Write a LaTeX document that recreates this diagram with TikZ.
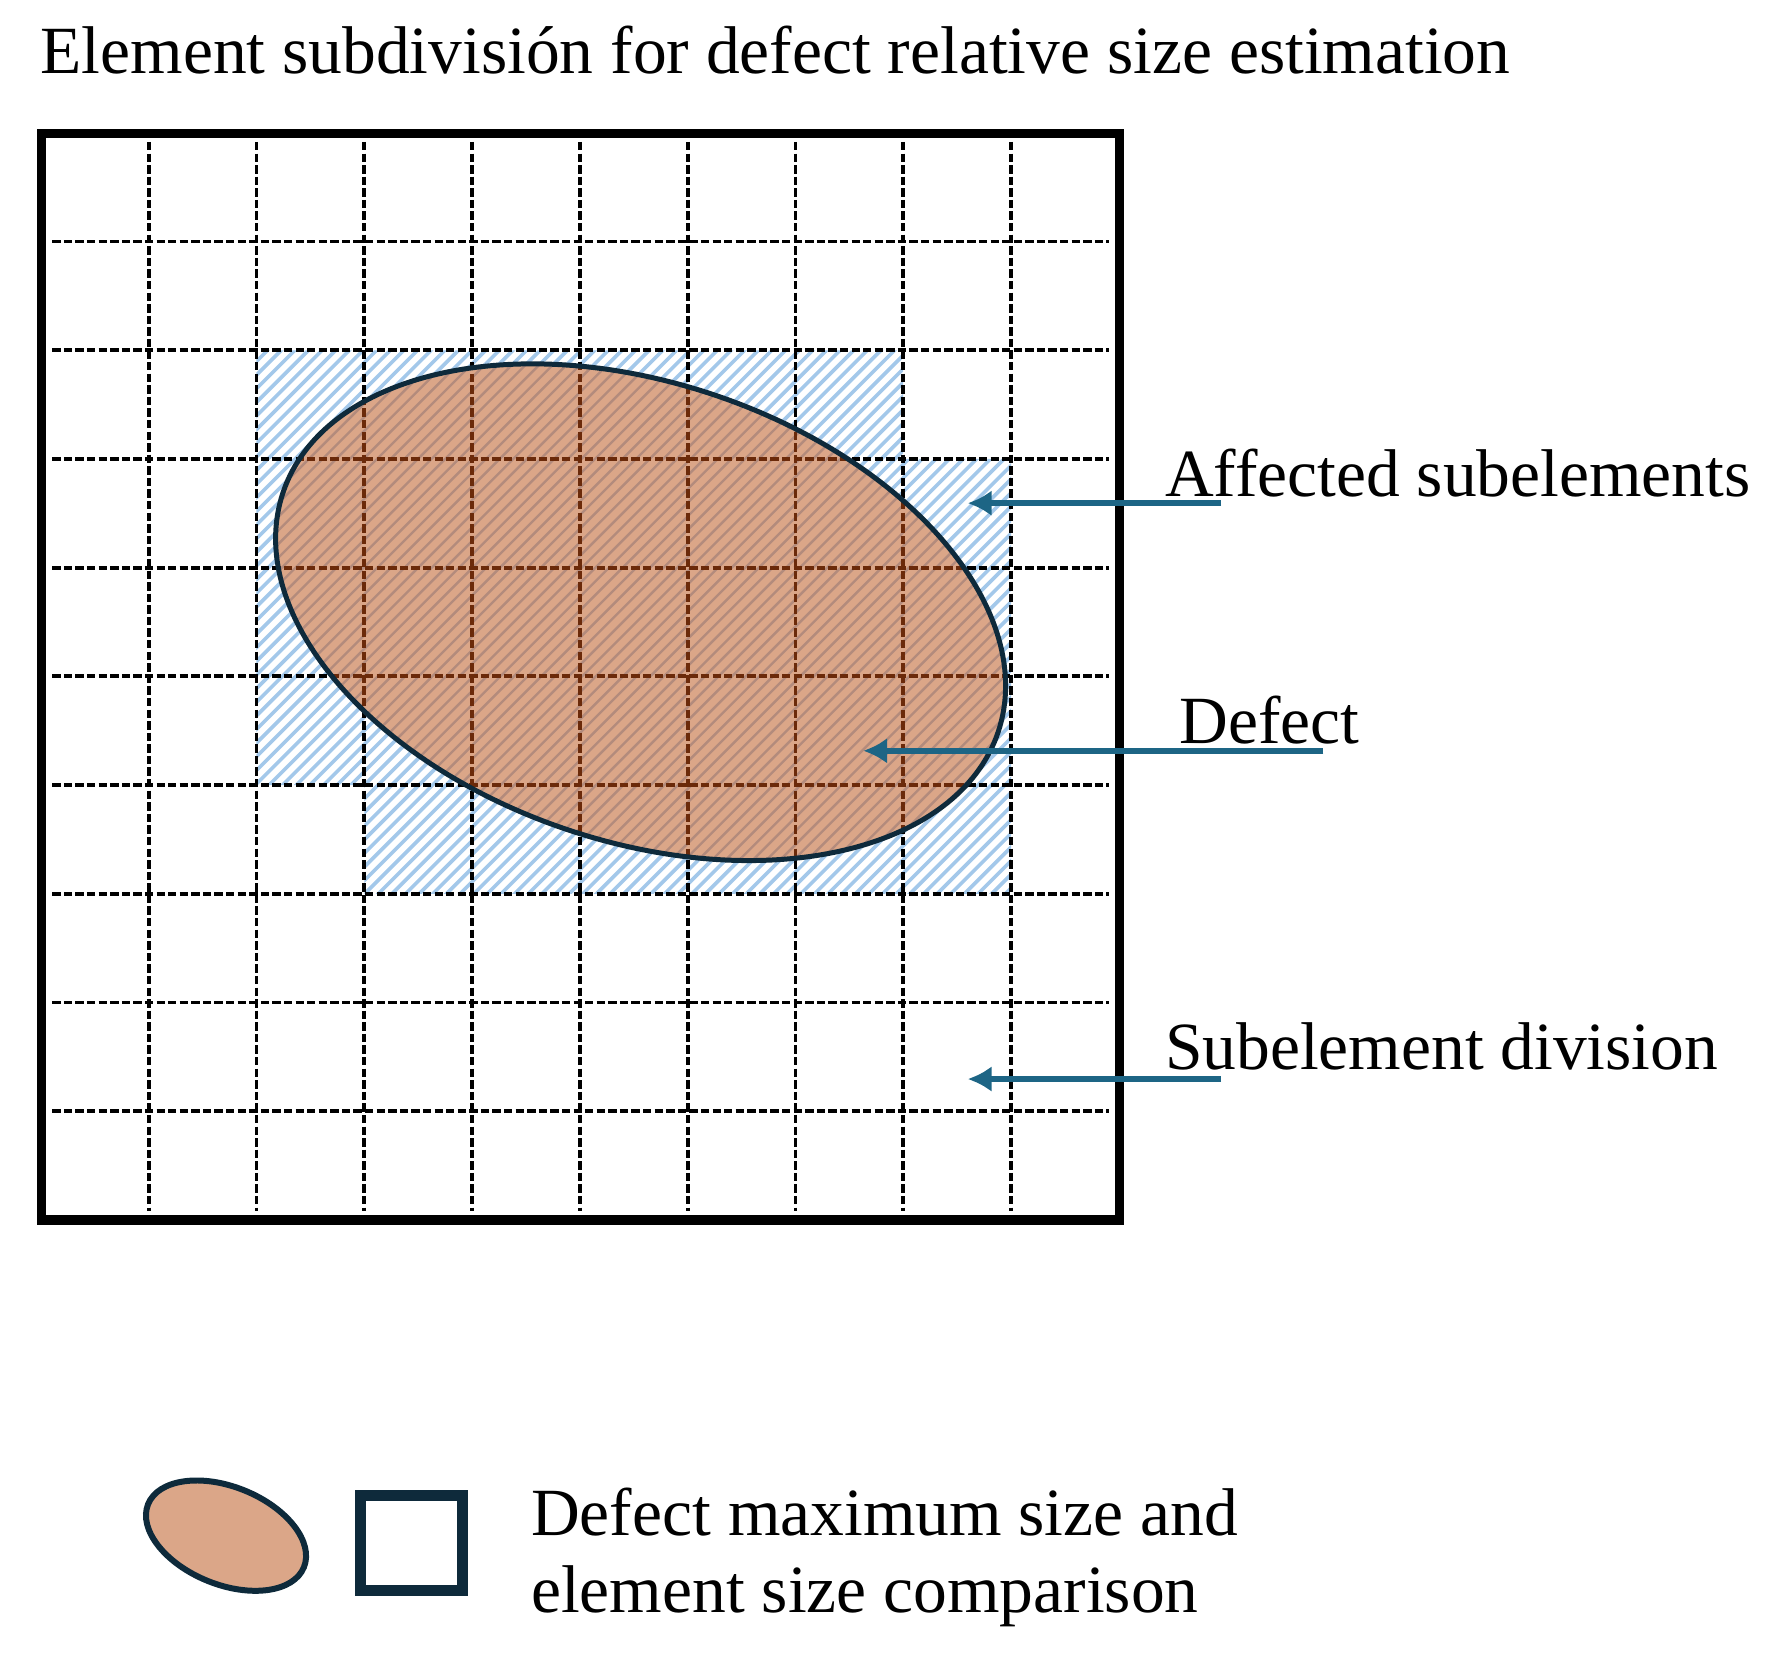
\documentclass[tikz,border=0pt]{standalone}
\usepackage{fontspec}
\setmainfont{Liberation Serif}
\usetikzlibrary{arrows.meta}
\definecolor{hatchblue}{HTML}{A3C8EA}
\definecolor{defectfill}{HTML}{DBA688}
\definecolor{defecthatch}{HTML}{B38B7C}
\definecolor{gridbrown}{HTML}{6B2A0A}
\definecolor{navy}{HTML}{0E2A3B}
\definecolor{arrowblue}{HTML}{1D6585}
\tikzset{
  gridline/.style={line width=0.95pt, dash pattern=on 2.1pt off 0.8pt},
  hatchline/.style={line width=0.9pt},
  innerhatch/.style={line width=0.6pt},
  pointer/.style={arrowblue, line width=1.6pt, -{Latex[length=6pt,width=6.5pt]}},
  lbl/.style={anchor=base west, inner sep=0pt, font=\fontsize{16.9pt}{20pt}\selectfont},
}
\begin{document}
\begin{tikzpicture}[x=0.01cm, y=-0.01cm]
\useasboundingbox (0,0) rectangle (1568,1455);
% title
\node[lbl] (title) at (35,65) {Element subdivisión for defect relative size estimation};
% blue hatching of affected cells
\begin{scope}
  \clip (225.8,308.4) -- (795.2,308.4) -- (795.2,404.1) -- (890.1,404.1) -- (890.1,786.9)
        -- (320.7,786.9) -- (320.7,691.2) -- (225.8,691.2) -- cycle;
  \foreach \c in {520,532,...,1700} {
    \draw[hatchblue, hatchline] (\c-820,820) -- (\c-290,290);
  }
\end{scope}
% grid
\foreach \i in {1,...,9} {
  \draw[gridline] ({36+94.9*\i},125) -- ({36+94.9*\i},1066);
  \draw[gridline] (46,{117+95.7*\i}) -- (976,{117+95.7*\i});
}
% defect ellipse
\fill[defectfill, rotate around={-18.5:(564,539)}] (564,539) ellipse [x radius=332, y radius=202];
\begin{scope}
  \clip[rotate around={-18.5:(564,539)}] (564,539) ellipse [x radius=332, y radius=202];
  \foreach \c in {520,532,...,1700} {
    \draw[defecthatch, innerhatch] (\c-820,820) -- (\c-290,290);
  }
  \foreach \i in {1,...,9} {
    \draw[gridline, gridbrown] ({36+94.9*\i},125) -- ({36+94.9*\i},1066);
    \draw[gridline, gridbrown] (46,{117+95.7*\i}) -- (976,{117+95.7*\i});
  }
\end{scope}
\draw[navy, line width=1.25pt, rotate around={-18.5:(564,539)}] (564,539) ellipse [x radius=332, y radius=202];
% outer element border
\draw[line width=2.4pt] (36.5,117.5) rectangle (985.5,1074);
% labels and pointers
\node[lbl] (affected) at (1025,437) {Affected subelements};
\node[lbl] (defect) at (1038,655) {Defect};
\node[lbl] (subdiv) at (1025,942) {Subelement division};
\coordinate (affS) at (1075,443);
\coordinate (affE) at (852,443);
\coordinate (defS) at (1165,661);
\coordinate (defE) at (760,661);
\coordinate (subS) at (1075,950);
\coordinate (subE) at (852,950);
\draw[pointer] (affS) -- (affE);
\draw[pointer] (defS) -- (defE);
\draw[pointer] (subS) -- (subE);
% legend
\draw[navy, fill=defectfill, line width=1.5pt, rotate around={-22:(199,1352)}] (199,1352) ellipse [x radius=74, y radius=43];
\draw[navy, line width=2.7pt] (317.5,1316.5) rectangle (407.5,1400.5);
\node[lbl] (leg1) at (467,1352) {Defect maximum size and};
\node[lbl] (leg2) at (467,1420) {element size comparison};
\end{tikzpicture}
\end{document}
